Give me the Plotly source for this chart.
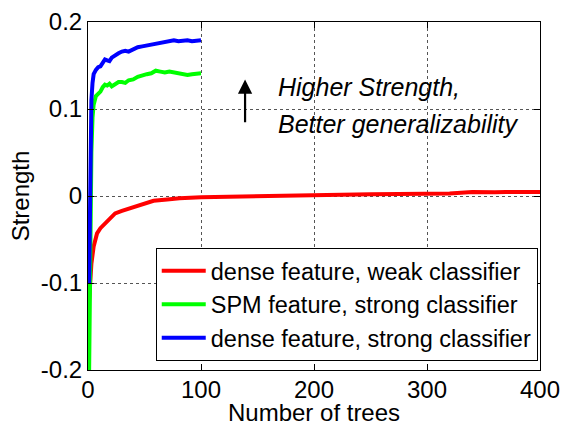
import plotly.graph_objects as go

# ---- data ----
red_trees = [1, 2, 3, 5, 8, 11, 14, 18, 24, 30, 37, 45, 58, 70, 81, 100, 125, 150, 175, 200,
             225, 250, 275, 300, 320, 340, 350, 360, 370, 380, 390, 400]
red_vals = [-0.12, -0.095, -0.078, -0.058, -0.043, -0.037, -0.033, -0.027, -0.020, -0.017,
            -0.014, -0.010, -0.0055, -0.004, -0.0025, -0.0015, -0.0008, 0.0, 0.0008, 0.0015,
            0.0018, 0.002, 0.0024, 0.0027, 0.003, 0.0045, 0.0038, 0.0042, 0.0045, 0.0044, 0.0046, 0.0046]

green_trees = [1, 2, 3, 4, 5, 7, 9, 11, 13, 15, 17, 19, 21, 24, 27, 30, 33, 36, 40, 44, 48,
               52, 56, 60, 64, 68, 72, 76, 80, 84, 88, 92, 96, 100]
green_vals = [-0.20, -0.05, 0.05, 0.09, 0.105, 0.115, 0.118, 0.120, 0.125, 0.128, 0.127, 0.129,
              0.126, 0.128, 0.131, 0.131, 0.130, 0.133, 0.134, 0.137, 0.139, 0.140, 0.141, 0.144,
              0.143, 0.142, 0.143, 0.142, 0.142, 0.140, 0.139, 0.140, 0.141, 0.141]

blue_trees = [1, 2, 3, 4, 5, 7, 9, 11, 13, 15, 17, 19, 21, 24, 27, 30, 33, 36, 40, 44, 48,
              52, 56, 60, 64, 68, 72, 76, 80, 84, 88, 92, 96, 100]
blue_vals = [-0.10, 0.06, 0.11, 0.13, 0.14, 0.145, 0.148, 0.149, 0.153, 0.157, 0.156, 0.155,
             0.159, 0.162, 0.164, 0.166, 0.167, 0.166, 0.169, 0.171, 0.172, 0.173, 0.175, 0.175,
             0.177, 0.178, 0.179, 0.179, 0.178, 0.179, 0.179, 0.178, 0.179, 0.179]

names = ["dense feature, weak classifier", "SPM feature, strong classifier",
         "dense feature, strong classifier"]
colors = ["#FF0000", "#00FF00", "#0000FF"]

x_ticks = [0, 100, 200, 300, 400]
y_ticks = [-0.2, -0.1, 0, 0.1, 0.2]
y_tick_text = ["-0.2", "-0.1", "0", "0.1", "0.2"]

FONT = "Liberation Sans, Arial, Helvetica, sans-serif"
FS = 24

fig = go.Figure()
for xs, ys, nm, c in zip([red_trees, green_trees, blue_trees],
                         [red_vals, green_vals, blue_vals], names, colors):
    fig.add_trace(go.Scatter(x=xs, y=ys, mode="lines", name=nm,
                             line=dict(color=c, width=4)))

axis_common = dict(showline=True, linecolor="black", linewidth=1, mirror="ticks",
                   ticks="inside", ticklen=6, tickcolor="black", automargin=False,
                   showgrid=True, gridcolor="#555555", griddash="3px,3px", gridwidth=1,
                   zeroline=False, tickfont=dict(size=FS, color="black", family=FONT))

fig.update_xaxes(range=[0, 400], tickvals=x_ticks, ticklabelstandoff=-2, **axis_common)
fig.update_yaxes(range=[-0.2, 0.2], tickvals=y_ticks, ticktext=y_tick_text, ticklabelstandoff=0,
                 title=dict(text="Strength", font=dict(size=FS, color="black", family=FONT),
                            standoff=4),
                 **axis_common)

# x-axis title placed as paper annotation
fig.add_annotation(x=0.5, y=-0.165, xref="paper", yref="paper", xanchor="center",
                   yanchor="bottom", text="Number of trees", showarrow=False, borderpad=0,
                   font=dict(size=FS, color="black", family=FONT))

fig.add_annotation(x=139, y=0.134, ax=139, ay=0.083, xref="x", yref="y", axref="x", ayref="y",
                   text="", showarrow=True, arrowhead=2, arrowsize=1.3, arrowwidth=2.2,
                   arrowcolor="black")
fig.add_annotation(x=166, y=0.125, xref="x", yref="y", xanchor="left", yanchor="middle",
                   text="<i>Higher Strength,</i>", showarrow=False,
                   font=dict(size=25, color="black", family=FONT))
fig.add_annotation(x=166, y=0.083, xref="x", yref="y", xanchor="left", yanchor="middle",
                   text="<i>Better generalizability</i>", showarrow=False,
                   font=dict(size=25, color="black", family=FONT))

fig.update_layout(
    width=564, height=428,
    margin=dict(l=88, r=24, t=22, b=58),
    paper_bgcolor="white", plot_bgcolor="white",
    font=dict(family=FONT, size=FS, color="black"),
    legend=dict(x=0.995, y=0.026, xanchor="right", yanchor="bottom",
                bgcolor="white", bordercolor="black", borderwidth=1,
                font=dict(size=23.5, color="black", family=FONT),
                tracegroupgap=0, itemwidth=44),
    showlegend=True,
)

fig.write_html("out.html")
